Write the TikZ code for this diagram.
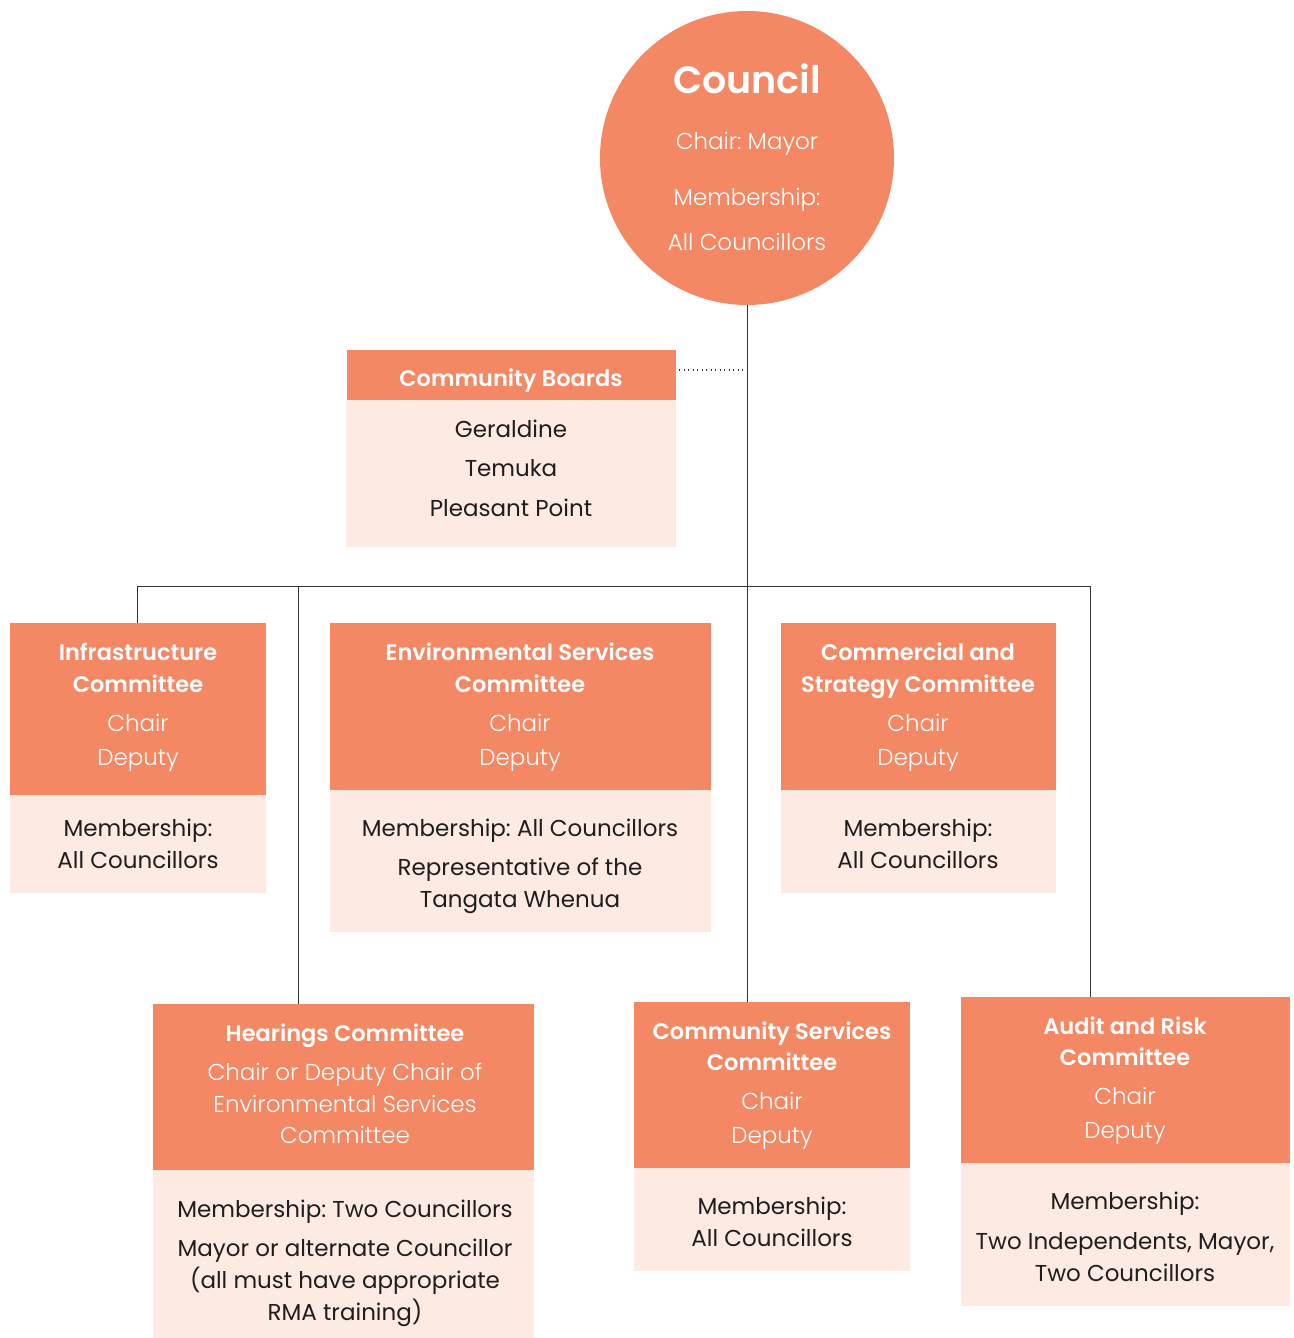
\documentclass[tikz,border=0pt]{standalone}
\usepackage{fontspec}
\setmainfont{Poppins}[BoldFont={Poppins SemiBold}]
\newfontfamily\lightfont{Poppins Light}
\frenchspacing
\definecolor{hdr}{HTML}{F58864}
\definecolor{lite}{HTML}{FDEBE3}
\definecolor{ink}{HTML}{1E1E1E}
\definecolor{wire}{HTML}{333333}
\begin{document}
\begin{tikzpicture}[x=1pt,y=-1pt,
  hbox/.style={fill=hdr,draw=none,inner sep=0pt,anchor=north west},
  lbox/.style={fill=lite,draw=none,inner sep=0pt,anchor=north west},
  ttl/.style={text=white,font=\fontsize{22.5}{26}\selectfont\bfseries,anchor=base,inner sep=0pt},
  sub/.style={text=white,font=\fontsize{23}{26}\selectfont\lightfont,anchor=base,inner sep=0pt},
  bod/.style={text=ink,font=\fontsize{23}{26}\selectfont,anchor=base,inner sep=0pt},
  wirestyle/.style={draw=wire,line width=1pt}]
\useasboundingbox (0,0) rectangle (1293,1338);
% Council
\node[circle,fill=hdr,minimum size=294pt,inner sep=0pt] (council) at (747,158) {};
\node[text=white,font=\fontsize{38}{44}\selectfont\bfseries,anchor=base,inner sep=0pt] (councilT) at (747,93) {Council};
\node[sub] (councilC) at (747,149) {Chair: Mayor};
\node[sub] (councilM) at (747,205) {Membership:};
\node[sub] (councilA) at (747,250) {All Councillors};
% Community boards
\node[hbox,minimum width=329pt,minimum height=50pt] (cbH) at (347,350) {};
\node[lbox,minimum width=330pt,minimum height=147pt] (cbB) at (346,400) {};
\node[ttl] (cbT) at (511,386) {Community Boards};
\node[bod] (cb1) at (511,437) {Geraldine};
\node[bod] (cb2) at (511,476) {Temuka};
\node[bod] (cb3) at (511,516) {Pleasant Point};
% Infrastructure
\node[hbox,minimum width=256pt,minimum height=172pt] (infH) at (10,623) {};
\node[lbox,minimum width=256pt,minimum height=98pt] (infB) at (10,795) {};
\node[ttl] (inf1) at (138,660) {Infrastructure};
\node[ttl] (inf2) at (138,692) {Committee};
\node[sub] (inf3) at (138,731) {Chair};
\node[sub] (inf4) at (138,765) {Deputy};
\node[bod] (inf5) at (138,836) {Membership:};
\node[bod] (inf6) at (138,868) {All Councillors};
% Environmental
\node[hbox,minimum width=381pt,minimum height=167pt] (envH) at (330,623) {};
\node[lbox,minimum width=381pt,minimum height=142pt] (envB) at (330,790) {};
\node[ttl] (env1) at (520,660) {Environmental Services};
\node[ttl] (env2) at (520,692) {Committee};
\node[sub] (env3) at (520,731) {Chair};
\node[sub] (env4) at (520,765) {Deputy};
\node[bod] (env5) at (520,836) {Membership: All Councillors};
\node[bod] (env6) at (520,875) {Representative of the};
\node[bod] (env7) at (520,907) {Tangata Whenua};
% Commercial
\node[hbox,minimum width=275pt,minimum height=167pt] (comH) at (781,623) {};
\node[lbox,minimum width=275pt,minimum height=103pt] (comB) at (781,790) {};
\node[ttl] (com1) at (918,660) {Commercial and};
\node[ttl] (com2) at (918,692) {Strategy Committee};
\node[sub] (com3) at (918,731) {Chair};
\node[sub] (com4) at (918,765) {Deputy};
\node[bod] (com5) at (918,836) {Membership:};
\node[bod] (com6) at (918,868) {All Councillors};
% Hearings
\node[hbox,minimum width=381pt,minimum height=166pt] (hrH) at (153,1004) {};
\node[lbox,minimum width=381pt,minimum height=168pt] (hrB) at (153,1170) {};
\node[ttl] (hr1) at (345,1041) {Hearings Committee};
\node[sub] (hr2) at (345,1080) {Chair or Deputy Chair of};
\node[sub] (hr3) at (345,1112) {Environmental Services};
\node[sub] (hr4) at (345,1143) {Committee};
\node[bod] (hr5) at (345,1217) {Membership: Two Councillors};
\node[bod] (hr6) at (345,1256) {Mayor or alternate Councillor};
\node[bod] (hr7) at (345,1288) {(all must have appropriate};
\node[bod] (hr8) at (345,1320) {RMA training)};
% Community Services
\node[hbox,minimum width=276pt,minimum height=166pt] (csH) at (634,1002) {};
\node[lbox,minimum width=276pt,minimum height=103pt] (csB) at (634,1168) {};
\node[ttl] (cs1) at (772,1039) {Community Services};
\node[ttl] (cs2) at (772,1070) {Committee};
\node[sub] (cs3) at (772,1109) {Chair};
\node[sub] (cs4) at (772,1143) {Deputy};
\node[bod] (cs5) at (772,1214) {Membership:};
\node[bod] (cs6) at (772,1246) {All Councillors};
% Audit
\node[hbox,minimum width=329pt,minimum height=166pt] (audH) at (961,997) {};
\node[lbox,minimum width=329pt,minimum height=143pt] (audB) at (961,1163) {};
\node[ttl] (aud1) at (1125,1034) {Audit and Risk};
\node[ttl] (aud2) at (1125,1065) {Committee};
\node[sub] (aud3) at (1125,1104) {Chair};
\node[sub] (aud4) at (1125,1138) {Deputy};
\node[bod] (aud5) at (1125,1209) {Membership:};
\node[bod] (aud6) at (1125,1249) {Two Independents, Mayor,};
\node[bod] (aud7) at (1125,1281) {Two Councillors};
% connectors
\coordinate (bL) at (137,586);
\coordinate (bH) at (298,586);
\coordinate (bR) at (1090,586);
\coordinate (dotEnd) at (679,370);
\draw[wirestyle] (council.south) -- (council.south |- csH.north);
\draw[wirestyle] (infH.north -| bL) -- (bL) -- (bR) -- (bR |- audH.north);
\draw[wirestyle] (bH) -- (bH |- hrH.north);
\draw[draw=wire,line width=1.3pt,dash pattern=on 1.3pt off 3.2pt] (dotEnd) -- (dotEnd -| council.south);
\end{tikzpicture}
\end{document}
